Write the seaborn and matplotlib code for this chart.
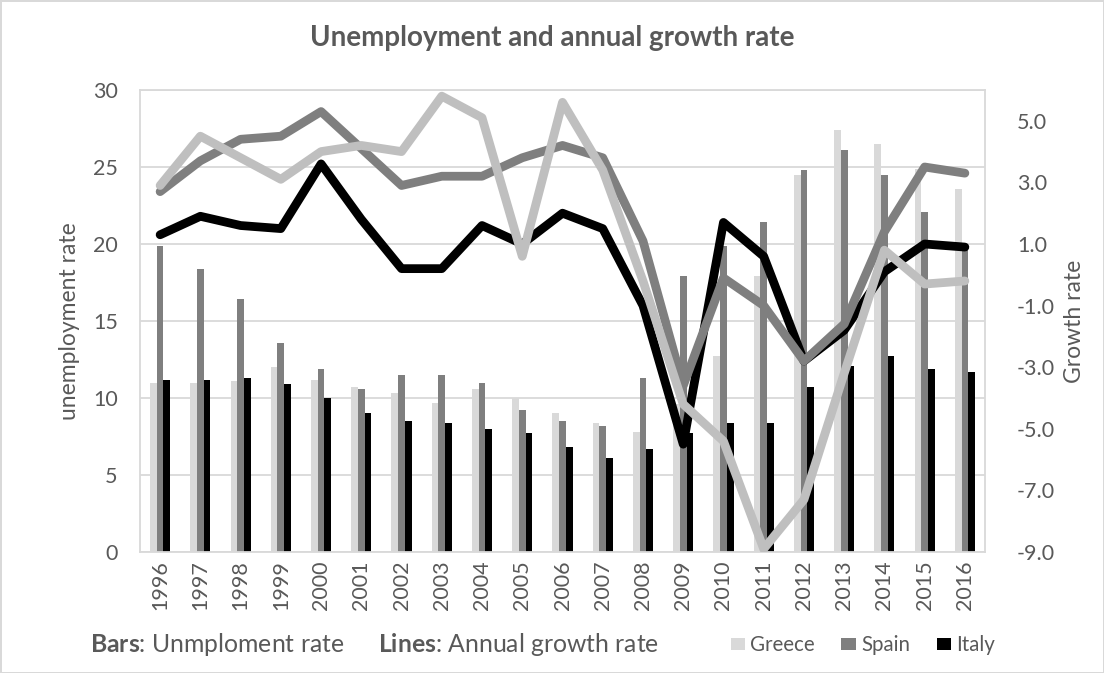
import numpy as np
import pandas as pd
import matplotlib.pyplot as plt
import seaborn as sns
from matplotlib.ticker import FormatStrFormatter

# data
years = ['1996', '1997', '1998', '1999', '2000', '2001', '2002', '2003', '2004', '2005', '2006',
         '2007', '2008', '2009', '2010', '2011', '2012', '2013', '2014', '2015', '2016']
countries = ['Greece', 'Spain', 'Italy']

# unemployment rate (bars, left axis)
greece_unemp = [11.0, 11.0, 11.1, 12.0, 11.2, 10.7, 10.3, 9.7, 10.6, 10.0, 9.0,
                8.4, 7.8, 9.6, 12.7, 17.9, 24.5, 27.4, 26.5, 24.9, 23.6]
spain_unemp = [19.9, 18.4, 16.4, 13.6, 11.9, 10.6, 11.5, 11.5, 11.0, 9.2, 8.5,
               8.2, 11.3, 17.9, 19.9, 21.4, 24.8, 26.1, 24.5, 22.1, 19.6]
italy_unemp = [11.2, 11.2, 11.3, 10.9, 10.0, 9.0, 8.5, 8.4, 8.0, 7.7, 6.8,
               6.1, 6.7, 7.7, 8.4, 8.4, 10.7, 12.1, 12.7, 11.9, 11.7]

# annual growth rate (lines, right axis)
greece_growth = [2.9, 4.5, 3.8, 3.1, 4.0, 4.2, 4.0, 5.8, 5.1, 0.6, 5.6,
                 3.4, -0.2, -4.2, -5.4, -8.9, -7.3, -3.2, 0.8, -0.3, -0.2]
spain_growth = [2.7, 3.7, 4.4, 4.5, 5.3, 4.1, 2.9, 3.2, 3.2, 3.8, 4.2,
                3.8, 1.1, -3.6, -0.1, -1.0, -2.8, -1.6, 1.4, 3.5, 3.3]
italy_growth = [1.3, 1.9, 1.6, 1.5, 3.6, 1.8, 0.2, 0.2, 1.6, 1.0, 2.0,
                1.5, -1.0, -5.5, 1.7, 0.6, -2.8, -1.8, 0.1, 1.0, 0.9]

bar_colors = {'Greece': '#D9D9D9', 'Spain': '#7F7F7F', 'Italy': '#000000'}
line_colors = {'Greece': '#BFBFBF', 'Spain': '#7F7F7F', 'Italy': '#000000'}
text_color = '#595959'
grid_color = '#D9D9D9'

bars = pd.concat([
    pd.DataFrame({'year': years, 'country': c, 'rate': v})
    for c, v in zip(countries, [greece_unemp, spain_unemp, italy_unemp])
])
lines = pd.concat([
    pd.DataFrame({'year': years, 'country': c, 'growth': v})
    for c, v in zip(countries, [greece_growth, spain_growth, italy_growth])
])
lines['pos'] = lines['year'].map({y: i for i, y in enumerate(years)})

sns.set_style('white')
plt.rcParams['font.family'] = ['Lato', 'DejaVu Sans']
plt.rcParams['mathtext.fontset'] = 'custom'
plt.rcParams['mathtext.rm'] = 'Lato'
plt.rcParams['mathtext.bf'] = 'Lato:bold'
plt.rcParams['axes.unicode_minus'] = False

fig, ax = plt.subplots(figsize=(11.04, 6.73), dpi=100)
fig.subplots_adjust(left=140 / 1104, right=985 / 1104, top=1 - 90 / 673, bottom=1 - 552 / 673)

sns.barplot(data=bars, x='year', y='rate', hue='country', hue_order=countries,
            palette=bar_colors, width=0.5, saturation=1, linewidth=0, ax=ax)

ax2 = ax.twinx()
sns.lineplot(data=lines, x='pos', y='growth', hue='country', hue_order=['Italy', 'Spain', 'Greece'],
             palette=line_colors, linewidth=6.3, legend=False, ax=ax2,
             solid_capstyle='round', solid_joinstyle='round')

ax.set_xlim(-0.5, len(years) - 0.5)
ax.set_ylim(0, 30)
ax.set_yticks(np.arange(0, 31, 5))
ax2.set_ylim(-9, 6)
ax2.set_yticks(np.arange(-9, 6, 2))
ax2.yaxis.set_major_formatter(FormatStrFormatter('%.1f'))

ax.yaxis.grid(True, color=grid_color, linewidth=1.3)
ax.set_axisbelow(True)
for s in ax.spines.values():
    s.set_visible(True)
    s.set_color(grid_color)
    s.set_linewidth(1.3)
for s in ax2.spines.values():
    s.set_visible(False)

ax.tick_params(axis='x', rotation=90, length=0, pad=6, labelsize=15.5, labelcolor=text_color)
ax.tick_params(axis='y', length=0, pad=16, labelsize=15.5, labelcolor=text_color)
ax2.tick_params(axis='y', length=0, pad=23, labelsize=15.5, labelcolor=text_color)

ax.set_xlabel('')
ax.set_ylabel('unemployment rate', fontsize=16.5, color=text_color)
ax.yaxis.set_label_coords(-0.071, 0.5)
ax2.set_xlabel('')
ax2.set_ylabel('Growth rate', fontsize=16.5, color=text_color)
ax2.yaxis.set_label_coords(1.094, 0.5)

fig.text(0.5, 1 - 38 / 673, 'Unemployment and annual growth rate', ha='center', va='center',
         fontsize=20, fontweight='bold', color=text_color)
fig.text(90 / 1104, 1 - 645 / 673, r'$\bf{Bars}$: Unmploment rate', ha='left', va='center',
         fontsize=17.8, color=text_color)
fig.text(378 / 1104, 1 - 645 / 673, r'$\bf{Lines}$: Annual growth rate', ha='left', va='center',
         fontsize=17.8, color=text_color)

sns.move_legend(ax, 'center left', bbox_to_anchor=(712 / 1104, 1 - 645 / 673),
                bbox_transform=fig.transFigure, ncol=3, frameon=False, title=None,
                handlelength=0.7, handleheight=0.5, handletextpad=0.25, columnspacing=1.3,
                fontsize=14.8, labelcolor=text_color)

fig.patch.set_edgecolor(grid_color)
fig.patch.set_linewidth(2)
fig.savefig('out.png', dpi=100, edgecolor=fig.get_edgecolor())
